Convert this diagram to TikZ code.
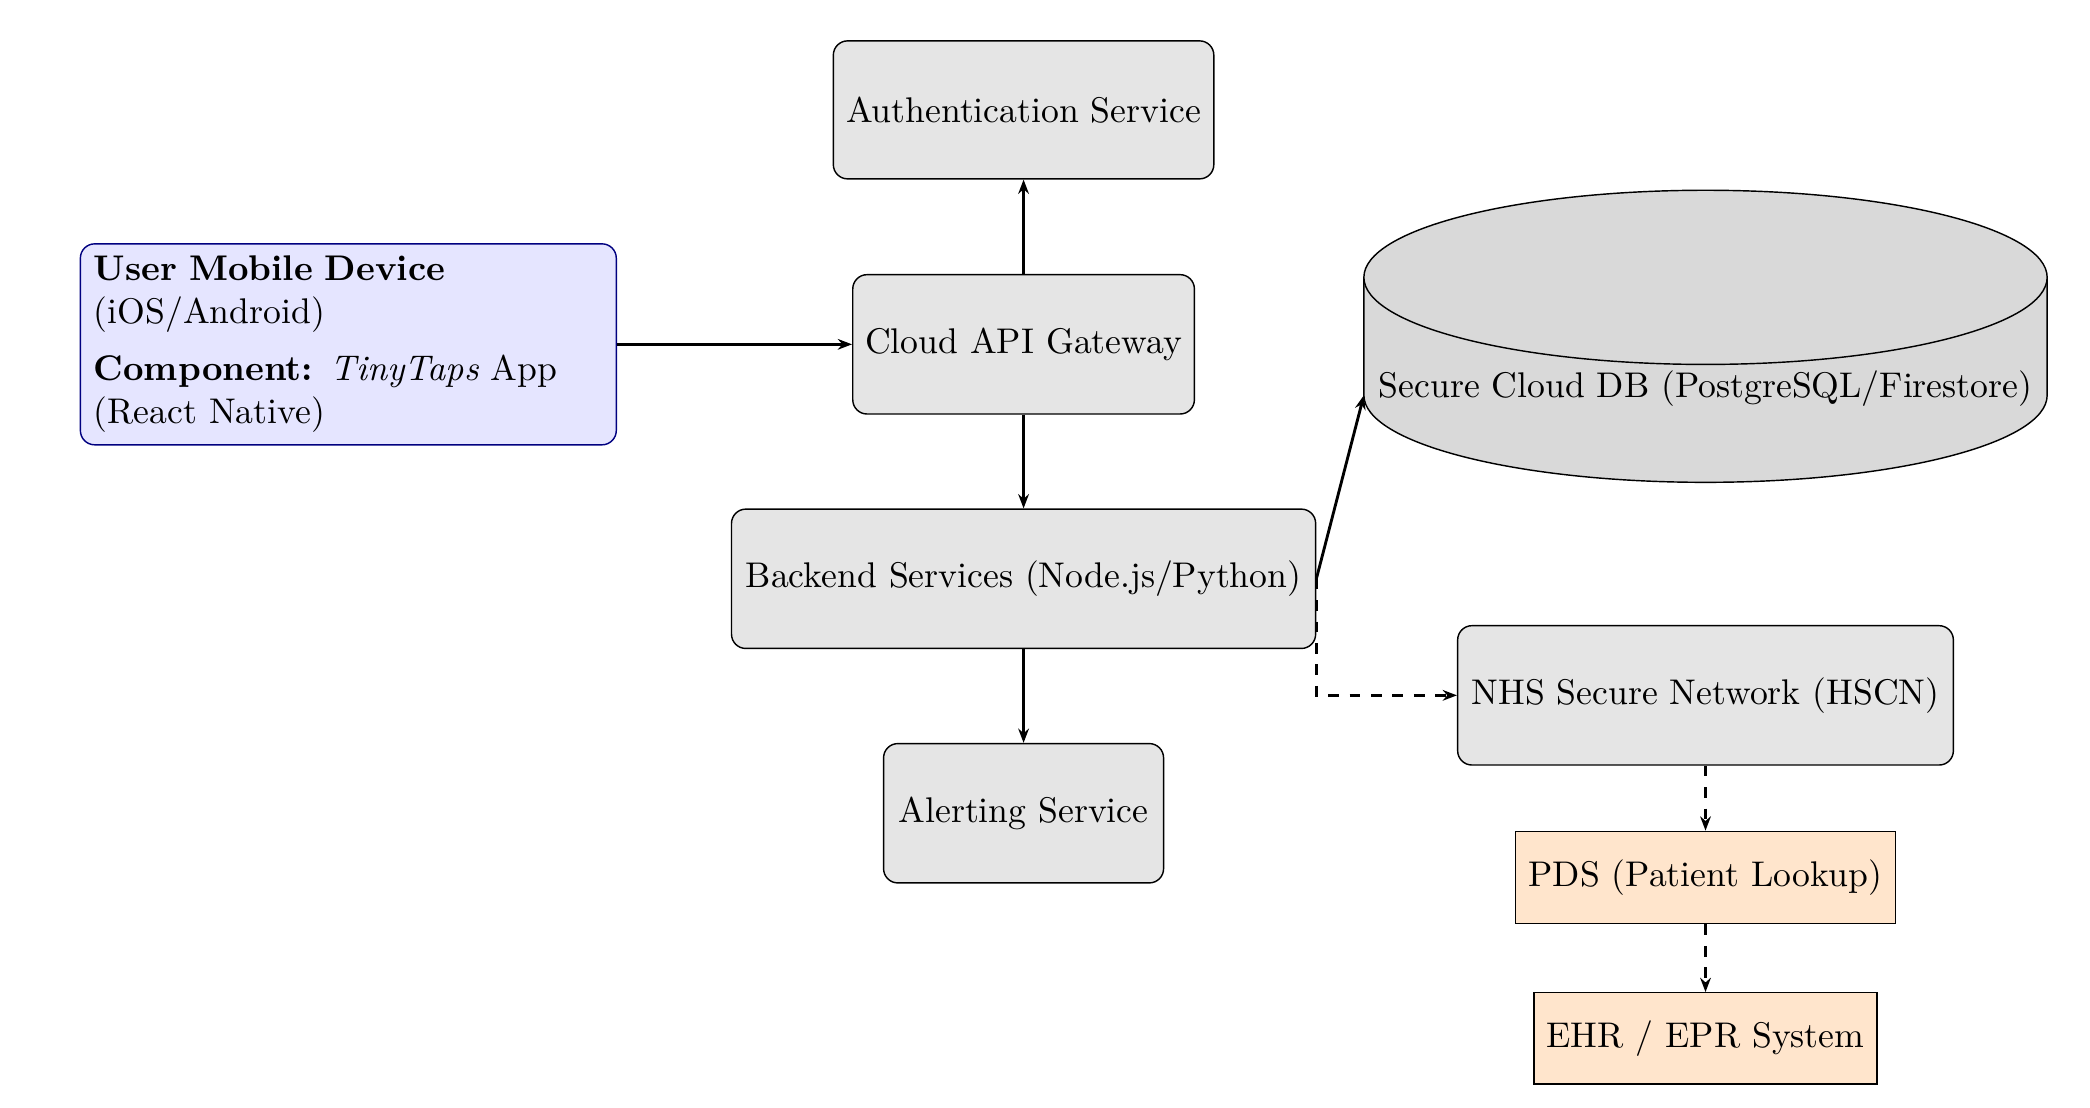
\documentclass[tikz,border=0pt]{standalone}
\usetikzlibrary{arrows.meta}
\def\u{0.0132cm}
\begin{document}
\begin{tikzpicture}[x=\u,y=-\u,
 box/.style={draw, rounded corners=4pt, fill=gray!20, align=center, inner sep=0pt},
 ext/.style={draw, fill=orange!20, align=center, inner sep=0pt},
 arr/.style={-{Stealth[length=4pt]}, thick},
 darr/.style={-{Stealth[length=4pt]}, thick, dashed}]
\useasboundingbox (0,0) rectangle (1560,827);
\node[box, minimum width=284*\u, minimum height=103*\u] (auth) at (764,82) {Authentication Service};
\node[box, minimum width=255*\u, minimum height=104*\u] (gw) at (764,257) {Cloud API Gateway};
\node[draw=blue!50!black, fill=blue!10, rounded corners=4pt, align=left, text width=380*\u, minimum width=400*\u, minimum height=150*\u, inner sep=0pt] (mob) at (260,257) {\textbf{User Mobile Device}\\(iOS/Android)\\[4pt]\textbf{Component:} \textit{TinyTaps} App\\(React Native)};
\node[box, minimum width=436*\u, minimum height=104*\u] (be) at (764,432) {Backend Services (Node.js/Python)};
\node[box, minimum width=209*\u, minimum height=104*\u] (al) at (764,607) {Alerting Service};
\node[box, minimum width=370*\u, minimum height=104*\u] (nhs) at (1273,519) {NHS Secure Network (HSCN)};
\node[ext, minimum width=284*\u, minimum height=69*\u] (pds) at (1273,655) {PDS (Patient Lookup)};
\node[ext, minimum width=256*\u, minimum height=68*\u] (ehr) at (1273,775) {EHR / EPR System};
% cylinder
\draw[fill=gray!30] (1018,207) -- (1018,295) arc[start angle=180,end angle=0,x radius=255,y radius=65] -- (1528,207) -- cycle;
\draw[fill=gray!30] (1273,207) ellipse[x radius=255,y radius=65];
\node (db) at (1273,290) {Secure Cloud DB (PostgreSQL/Firestore)};
\coordinate (dbw) at (1018,295);
\draw[arr] (mob) -- (gw);
\draw[arr] (gw) -- (auth);
\draw[arr] (gw) -- (be);
\draw[arr] (be) -- (al);
\draw[arr] (be.east) -- (dbw);
\draw[darr] (be.east) |- (nhs.west);
\draw[darr] (nhs) -- (pds);
\draw[darr] (pds) -- (ehr);
\end{tikzpicture}
\end{document}
